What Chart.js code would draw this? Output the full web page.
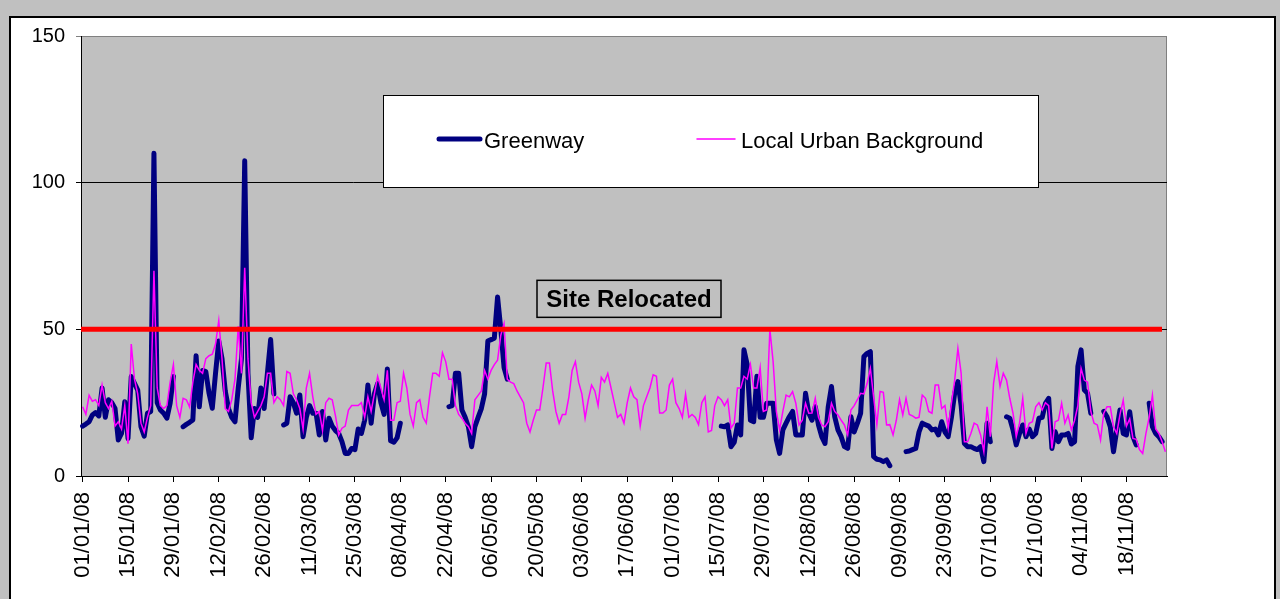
<!DOCTYPE html>
<html>
<head>
<meta charset="utf-8">
<script src="https://cdn.jsdelivr.net/npm/chart.js@4.4.0/dist/chart.umd.min.js"></script>
<style>
  html, body { margin:0; padding:0; width:1280px; height:599px; overflow:hidden; background:#c0c0c0; }
  #frame { position:absolute; left:9px; top:16px; width:1263px; height:600px; background:#fff; border:2px solid #000; }
  #chart { position:absolute; left:0; top:0; }
</style>
</head>
<body>
<div id="frame"></div>
<canvas id="chart" width="1280" height="599"></canvas>
<script>
// daily values, 01/01/08 .. 30/11/08 (null = no data)
const greenway = [
  17, 17.7, 18.5, 20.8, 21.6, 20.5, 30, 20, 26, 25,
  23, 12.3, 14.5, 25.3, 12.8, 33.9, 31.6, 29.3, 16.8, 13.6,
  21.4, 22, 110, 25, 22.5, 21.4, 19.7, 24.8, 33.9, null,
  null, 16.8, 17.6, 18.3, 19.1, 41, 23.6, 36, 35.6, 28.2,
  23.1, 35, 46, 40, 29, 23, 20, 18.5, 30, 40,
  107.5, 35, 13, 23, 20, 30, 23, 35, 46.5, 28,
  null, null, 17.4, 18, 27, 25, 21.4, 27.6, 13.4, 20,
  24, 21.4, 21.4, 14, 22, 12.3, 19.7, 17, 15.5, 14.5,
  11.7, 7.7, 7.7, 9.4, 9, 16, 14.5, 19, 31, 18,
  28, 31.5, 25, 21, 36.5, 12, 11.5, 13, 18, null,
  null, null, null, null, null, null, null, null, null, null,
  null, null, null, 23.6, 24, 35, 35, 22.5, 20, 16.8,
  10, 16.8, 20, 23, 28, 46, 46.5, 47, 61, 50,
  37, 33, null, null, null, null, null, null, null, null,
  null, null, null, null, null, null, null, null, null, null,
  null, null, null, null, null, null, null, null, null, null,
  null, null, null, null, null, null, null, null, null, null,
  null, null, null, null, null, null, null, null, null, null,
  null, null, null, null, null, null, null, null, null, null,
  null, null, null, null, null, null, null, 17, 16.8, 17.4,
  10, 11.5, 17.4, 14, 43, 38, 19, 18.5, 34, 20,
  20, 24.8, 24.8, 24.8, 12.3, 7.7, 15.7, 18, 20.2, 22,
  14, 14, 14, 28.2, 21.4, 19, 23.6, 17.4, 13.4, 11.1,
  23.6, 30.5, 20.2, 15.7, 13.4, 10, 9.4, 20.2, 15, 18,
  21.4, 40.7, 41.8, 42.4, 6.6, 5.7, 5.5, 4.9, 5.5, 3.5,
  null, null, null, null, 8.3, 8.5, 9, 9.4, 15, 18,
  17.5, 17, 15.7, 16, 14, 18.5, 15, 13.4, 20, 28.2,
  32.2, 24, 11.1, 10, 10, 9.4, 9, 10, 4.9, 18,
  11.7, null, null, null, null, 20.2, 19.7, 15.7, 10.6, 14.5,
  17.4, 13.4, 16, 13.4, 14.5, 19.7, 20, 24.8, 26.5, 9.4,
  15.1, 11.7, 14, 14, 14.5, 10.9, 11.7, 37.3, 43, 29.3,
  28.2, 21.4, null, null, null, 22, 20.2, 16.8, 8.3, 15.7,
  22.5, 14.5, 14, 21.9, 13.4, 10.6, null, null, null, 24.8,
  16.8, 14.5, 13.4, 11.7, null
];

const background = [
  23.6, 21, 27.5, 25.5, 26, 24, 31, 25, 23, 25.5,
  17, 18.5, 16, 24, 11, 45, 33, 28, 18, 15,
  20, 24, 70, 30, 24, 23, 24, 32, 38, 24,
  20, 26.5, 26, 23.5, 32, 38, 36, 35, 40, 41,
  41.5, 45, 53, 40, 23, 22, 26, 33, 51, 35,
  71, 40, 25, 20, 22, 24, 27, 35, 35, 25,
  27, 26, 24, 35.6, 35, 28, 26, 23, 16, 30,
  35, 27, 21, 22, 15.5, 25, 26.5, 26, 20.5, 14,
  16.3, 17, 22.5, 24, 24, 24, 25, 20, 27, 22,
  28, 34, 30, 26, 36, 19, 19, 25, 25.5, 35,
  30, 21, 17, 25, 26, 20, 18, 27, 35, 35,
  34, 42, 39, 33, 33, 24, 21, 19.7, 18, 16.8,
  14.5, 26, 27.5, 29, 36, 33, 36, 38, 39.5, 48,
  52, 33, 32, 31.5, 29, 27, 25, 18, 15, 19,
  22.5, 22.5, 30, 38.5, 38.5, 29, 22, 18, 21, 21,
  27, 36, 39, 32, 28, 19.7, 26, 31, 29, 24,
  33.6, 32, 35, 30, 25, 20, 21, 18, 25, 30,
  27, 26, 17, 24, 27, 30, 34.5, 34, 21.5, 21.5,
  22.5, 31, 33, 25, 23, 20, 28, 20, 21, 20,
  17.5, 25, 27, 15, 15.5, 24, 27, 26, 24, 26,
  16.3, 18, 30, 30, 34, 33, 38, 30, 30, 37,
  22, 22.5, 50, 39, 22, 15.7, 22, 27.6, 27, 28.8,
  24.8, 17.4, 19, 24.8, 21.4, 21.5, 26.5, 20, 17.4, 16.8,
  18.5, 24.8, 22, 20.8, 19, 17.4, 14, 22.5, 24, 26,
  28.2, 28, 31.6, 36.7, 27, 17.4, 28.8, 28.5, 17.4, 17.5,
  14, 19, 26, 20.8, 26.5, 21, 20.5, 19.7, 20, 27.6,
  26.5, 22, 21.4, 31, 31, 23, 24, 16.3, 24.8, 32.7,
  43.5, 35, 11.7, 11.7, 14.5, 18, 17.4, 14, 8.3, 23.6,
  13.4, 31.6, 39, 30.5, 35, 32.7, 26.5, 21.4, 13.4, 18,
  26.5, 14.5, 18, 18.5, 23.6, 25, 22.5, 25, 24, 9.4,
  18.5, 19, 24.8, 18, 20.8, 15.7, 19, 24, 36.7, 32.7,
  32, 22, 18, 17.4, 12.3, 21.4, 23.6, 23.6, 16.8, 14.5,
  21, 25.9, 17, 19.5, 12.8, 12.5, 9, 7.7, 14.5, 20,
  27.6, 16, 14.5, 11.7, 8.3
];

const tickLabels = ['01/01/08','15/01/08','29/01/08','12/02/08','26/02/08','11/03/08','25/03/08',
  '08/04/08','22/04/08','06/05/08','20/05/08','03/06/08','17/06/08','01/07/08','15/07/08',
  '29/07/08','12/08/08','26/08/08','09/09/08','23/09/08','07/10/08','21/10/08','04/11/08','18/11/08'];
const yTicks = [0, 50, 100, 150];
const limitValue = 50;
const limitLabel = 'Site Relocated';

// one category per day
const days = [];
for (let i = 0; i < greenway.length; i++) {
  const d = new Date(2008, 0, 1 + i);
  const dd = String(d.getDate()).padStart(2, '0');
  const mm = String(d.getMonth() + 1).padStart(2, '0');
  days.push(dd + '/' + mm + '/08');
}

const FONT = "'Liberation Sans', Arial, sans-serif";

// plot background + border
const plotBg = {
  id: 'plotBg',
  beforeDraw(chart) {
    const {ctx, chartArea: a} = chart;
    ctx.save();
    ctx.fillStyle = '#c0c0c0';
    ctx.fillRect(a.left, a.top, a.right - a.left, a.bottom - a.top);
    ctx.strokeStyle = '#808080';
    ctx.lineWidth = 1;
    ctx.strokeRect(a.left + 0.5, a.top + 0.5, a.right - a.left - 1, a.bottom - a.top);
    ctx.restore();
  }
};

// red relocation line + label box
const relocLine = {
  id: 'relocLine',
  afterDatasetsDraw(chart) {
    const {ctx, chartArea: a, scales} = chart;
    const y = scales.y.getPixelForValue(limitValue);
    ctx.save();
    ctx.strokeStyle = '#ff0000';
    ctx.lineWidth = 5;
    ctx.beginPath();
    ctx.moveTo(a.left, y);
    ctx.lineTo(a.right - 5, y);
    ctx.stroke();

    const bx = a.left + 456, by = y - 49, bw = 184, bh = 37;
    ctx.fillStyle = '#c0c0c0';
    ctx.fillRect(bx, by, bw, bh);
    ctx.strokeStyle = '#000';
    ctx.lineWidth = 1.5;
    ctx.strokeRect(bx, by, bw, bh);
    ctx.fillStyle = '#000';
    ctx.font = 'bold 24px ' + FONT;
    ctx.textAlign = 'center';
    ctx.textBaseline = 'alphabetic';
    ctx.fillText(limitLabel, bx + bw / 2, by + 27);
    ctx.restore();
  }
};

// legend box inside the plot
const legendBox = {
  id: 'legendBox',
  afterDraw(chart) {
    const {ctx, chartArea: a} = chart;
    const x = a.left + 302, y = a.top + 59, w = 655, h = 92;
    ctx.save();
    ctx.fillStyle = '#fff';
    ctx.fillRect(x, y, w, h);
    ctx.strokeStyle = '#000';
    ctx.lineWidth = 1;
    ctx.strokeRect(x + 0.5, y + 0.5, w, h);
    const items = [
      {ds: chart.data.datasets[0], x0: x + 56, x1: x + 97, tx: x + 101},
      {ds: chart.data.datasets[1], x0: x + 314, x1: x + 352, tx: x + 358}
    ];
    const ly = y + 44;
    items.forEach(it => {
      ctx.strokeStyle = it.ds.borderColor;
      ctx.lineWidth = it.ds.borderWidth;
      ctx.lineCap = 'round';
      ctx.beginPath();
      ctx.moveTo(it.x0, ly);
      ctx.lineTo(it.x1, ly);
      ctx.stroke();
      ctx.fillStyle = '#000';
      ctx.font = '22px ' + FONT;
      ctx.textBaseline = 'alphabetic';
      ctx.fillText(it.ds.label, it.tx, ly + 9);
    });
    ctx.restore();
  }
};

new Chart(document.getElementById('chart'), {
  type: 'line',
  data: {
    labels: days,
    datasets: [
      {
        label: 'Greenway',
        data: greenway,
        borderColor: '#000080',
        borderWidth: 5,
        borderCapStyle: 'round',
        borderJoinStyle: 'round',
        pointRadius: 0,
        tension: 0,
        spanGaps: false,
        order: 1
      },
      {
        label: 'Local Urban Background',
        data: background,
        borderColor: '#ff00ff',
        borderWidth: 1.5,
        pointRadius: 0,
        tension: 0,
        spanGaps: false,
        order: 0
      }
    ]
  },
  options: {
    responsive: false,
    animation: false,
    devicePixelRatio: 1,
    layout: { padding: { top: 36, right: 113, left: 0, bottom: 0 } },
    plugins: { legend: { display: false }, tooltip: { enabled: false } },
    scales: {
      x: {
        type: 'category',
        offset: true,
        afterFit(s) { s.height = 123; },
        border: { color: '#000', width: 1 },
        grid: { offset: false, drawOnChartArea: false, color: '#000', tickLength: 6 },
        ticks: {
          autoSkip: false,
          minRotation: 90,
          maxRotation: 90,
          padding: 10,
          color: '#000',
          font: { family: FONT, size: 22 },
          callback(v, i) {
            const lab = days[i];
            return tickLabels.includes(lab) ? lab : null;
          }
        }
      },
      y: {
        min: 0,
        max: 150,
        afterFit(s) { s.width = 81; },
        afterBuildTicks(s) { s.ticks = yTicks.map(v => ({value: v})); },
        border: { color: '#000', width: 1 },
        grid: {
          color: c => (c.tick && c.tick.value === 150) ? '#808080' : '#000',
          lineWidth: 1,
          tickLength: 5
        },
        ticks: {
          padding: 11,
          color: '#000',
          font: { family: FONT, size: 20 }
        }
      }
    }
  },
  plugins: [plotBg, relocLine, legendBox]
});
</script>
</body>
</html>
